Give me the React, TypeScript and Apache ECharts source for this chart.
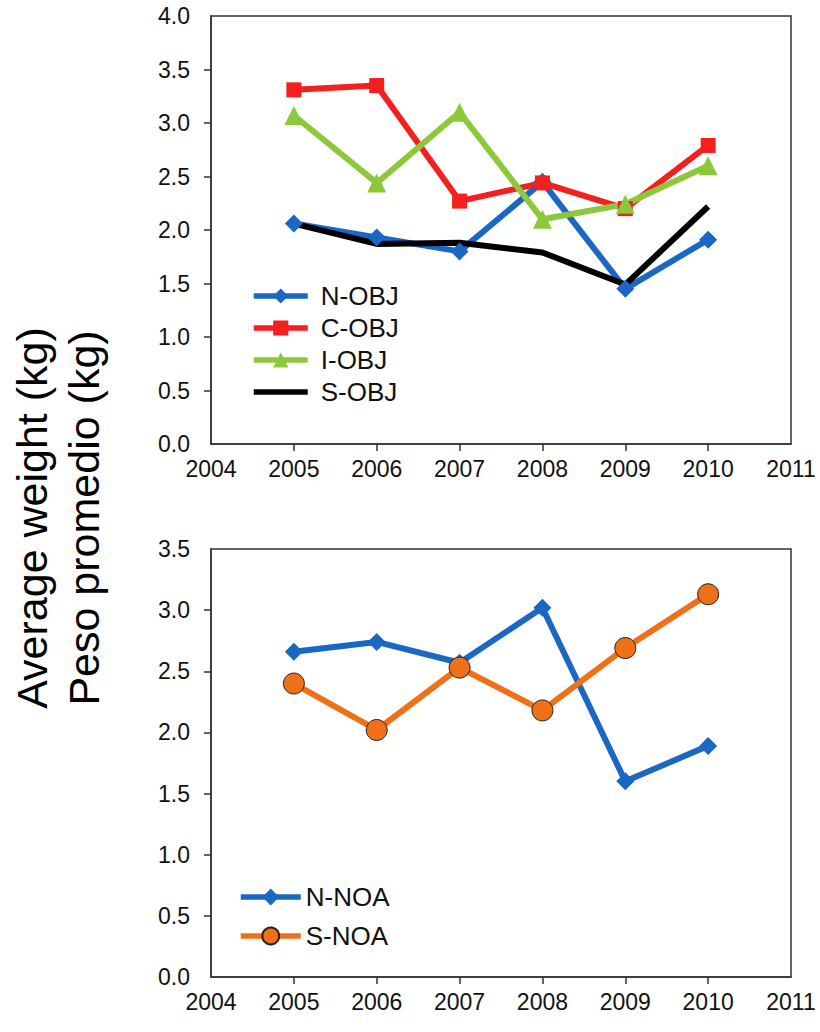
import React, { useEffect, useRef } from "react";
import * as echarts from "echarts";

const years = [2005, 2006, 2007, 2008, 2009, 2010];
const xTickLabels = [2004, 2005, 2006, 2007, 2008, 2009, 2010, 2011];
const topYTicks = [0.5, 1.0, 1.5, 2.0, 2.5, 3.0, 3.5];
const bottomYTicks = [0.5, 1.0, 1.5, 2.0, 2.5, 3.0];

const nObj = [2.06, 1.93, 1.8, 2.45, 1.45, 1.91];
const cObj = [3.31, 3.35, 2.27, 2.44, 2.2, 2.79];
const iObj = [3.07, 2.44, 3.1, 2.1, 2.24, 2.6];
const sObj = [2.06, 1.87, 1.88, 1.79, 1.49, 2.22];

const nNoa = [2.66, 2.74, 2.57, 3.02, 1.6, 1.89];
const sNoa = [2.4, 2.02, 2.53, 2.18, 2.69, 3.13];

const pairs = (vals: number[]) => years.map((y, i) => [y, vals[i]]);

export default function App() {
  const ref = useRef<HTMLDivElement>(null);
  useEffect(() => {
    const chart = echarts.init(ref.current!, null, { renderer: "svg" });
    const font = "'Liberation Sans', Arial, sans-serif";
    const axisColor = "#333";

    const mkX = (gridIndex: number) => ({
      type: "value",
      gridIndex,
      min: 2004,
      max: 2011,
      interval: 1,
      axisLine: { show: true, onZero: false, lineStyle: { color: axisColor, width: 1.5 } },
      axisTick: {
        show: true,
        inside: false,
        length: 7,
        customValues: years,
        lineStyle: { color: axisColor, width: 1.5 },
      },
      axisLabel: {
        fontSize: 23,
        color: "#111",
        fontFamily: font,
        margin: 13,
        customValues: xTickLabels,
        formatter: (v: number) => String(v),
      },
      splitLine: { show: false },
    });

    const mkY = (gridIndex: number, max: number, ticks: number[]) => ({
      type: "value",
      gridIndex,
      min: 0,
      max,
      interval: 0.5,
      axisLine: { show: true, lineStyle: { color: axisColor, width: 1.5 } },
      axisTick: {
        show: true,
        inside: false,
        length: 7,
        customValues: ticks,
        lineStyle: { color: axisColor, width: 1.5 },
      },
      axisLabel: {
        fontSize: 23,
        color: "#111",
        fontFamily: font,
        margin: 21,
        formatter: (v: number) => v.toFixed(1),
      },
      splitLine: { show: false },
    });

    const blue = "#1a67c4";
    const red = "#f41f1f";
    const green = "#8cc83a";
    const orange = "#f07018";
    const lw = 6;

    chart.setOption({
      animation: false,
      backgroundColor: "#fff",
      grid: [
        { left: 211, top: 16, width: 580, height: 428, show: true, borderColor: axisColor, borderWidth: 1.5 },
        { left: 211, top: 549, width: 580, height: 428, show: true, borderColor: axisColor, borderWidth: 1.5 },
      ],
      xAxis: [mkX(0), mkX(1)],
      yAxis: [mkY(0, 4, topYTicks), mkY(1, 3.5, bottomYTicks)],
      legend: [
        {
          data: ["N-OBJ", "C-OBJ", "I-OBJ", "S-OBJ"].map((n) =>
            n === "S-OBJ" ? { name: n, itemStyle: { opacity: 0 } } : { name: n }
          ),
          orient: "vertical",
          left: 246,
          top: 278,
          itemWidth: 54,
          itemHeight: 19,
          itemGap: 6,
          lineStyle: { width: 5.5 },
          textStyle: { fontSize: 26, fontFamily: font, color: "#111", padding: [0, 0, 0, 8] },
        },
        {
          data: ["N-NOA", "S-NOA"],
          orient: "vertical",
          left: 233,
          top: 879,
          itemWidth: 60,
          itemHeight: 21,
          itemGap: 13,
          lineStyle: { width: 5.5 },
          textStyle: { fontSize: 26, fontFamily: font, color: "#111", padding: [0, 0, 0, 0] },
        },
      ],
      series: [
        {
          name: "N-OBJ", type: "line", xAxisIndex: 0, yAxisIndex: 0, data: pairs(nObj),
          symbol: "diamond", symbolSize: 18, lineStyle: { color: blue, width: lw }, itemStyle: { color: blue },
        },
        {
          name: "C-OBJ", type: "line", xAxisIndex: 0, yAxisIndex: 0, data: pairs(cObj),
          symbol: "rect", symbolSize: 15, lineStyle: { color: red, width: lw }, itemStyle: { color: red },
        },
        {
          name: "I-OBJ", type: "line", xAxisIndex: 0, yAxisIndex: 0, data: pairs(iObj),
          symbol: "triangle", symbolSize: 19, lineStyle: { color: green, width: lw }, itemStyle: { color: green },
        },
        {
          name: "S-OBJ", type: "line", xAxisIndex: 0, yAxisIndex: 0, data: pairs(sObj),
          symbol: "none", lineStyle: { color: "#000", width: lw }, itemStyle: { color: "#000" },
        },
        {
          name: "N-NOA", type: "line", xAxisIndex: 1, yAxisIndex: 1, data: pairs(nNoa),
          symbol: "diamond", symbolSize: 18, lineStyle: { color: blue, width: lw }, itemStyle: { color: blue },
        },
        {
          name: "S-NOA", type: "line", xAxisIndex: 1, yAxisIndex: 1, data: pairs(sNoa),
          symbol: "circle", symbolSize: 21, lineStyle: { color: orange, width: lw },
          itemStyle: { color: orange, borderColor: "#222", borderWidth: 1 },
        },
      ],
      graphic: [
        {
          type: "text", x: 32, y: 518, rotation: Math.PI / 2,
          style: { text: "Average weight (kg)", fontSize: 43, fontFamily: font, fill: "#000", align: "center", verticalAlign: "middle" },
        },
        {
          type: "text", x: 84, y: 518, rotation: Math.PI / 2,
          style: { text: "Peso promedio (kg)", fontSize: 43, fontFamily: font, fill: "#000", align: "center", verticalAlign: "middle" },
        },
      ],
    });
    return () => chart.dispose();
  }, []);
  return (
    <div
      ref={ref}
      style={{ position: "fixed", left: 0, top: 0, width: 820, height: 1032, background: "#fff" }}
    />
  );
}
